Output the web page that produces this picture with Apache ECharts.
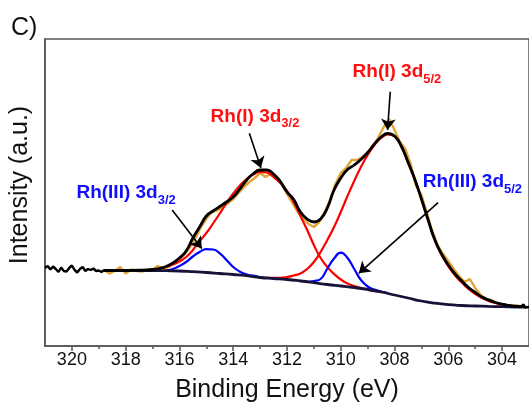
<!DOCTYPE html>
<html>
<head>
<meta charset="utf-8">
<script src="https://cdn.jsdelivr.net/npm/echarts@6/dist/echarts.min.js"></script>
<style>
  html, body { margin: 0; padding: 0; background: #fff; }
  #main { width: 529px; height: 409px; }
</style>
</head>
<body>
<div id="main"></div>
<script>
// tick positions (binding energy, eV)
var majorTicks = [304, 306, 308, 310, 312, 314, 316, 318, 320];
var minorTicks = [305, 307, 309, 311, 313, 315, 317, 319];

// raw spectrum, part outside the fit window (black)
var rawLeftE = [321.0, 320.9, 320.8, 320.7, 320.6, 320.5, 320.4, 320.3, 320.2, 320.1, 320.0, 319.9, 319.8, 319.7, 319.6, 319.5, 319.4, 319.3, 319.2, 319.1, 319.0, 318.9, 318.8];
var rawLeftI = [78, 80, 76.5, 79.5, 77, 74, 78.5, 75, 74.5, 78, 80.5, 76, 73.5, 77, 79, 75, 77, 76, 77.5, 75, 75.5, 74, 76];
var rawRightE = [303.4, 303.3, 303.2, 303.15, 303.1, 303.0];
var rawRightI = [40, 39.5, 41.5, 38.5, 39.5, 39];

// raw spectrum inside the fit window (gold)
var rawE = [318.8, 318.6, 318.4, 318.2, 318.0, 317.8, 317.6, 317.4, 317.2, 317.0, 316.8, 316.6, 316.4, 316.2, 316.0,
  315.8, 315.6, 315.4, 315.2, 315.0, 314.8, 314.6, 314.4, 314.2, 314.0, 313.8, 313.6, 313.4, 313.2, 313.0,
  312.8, 312.6, 312.4, 312.2, 312.0, 311.8, 311.6, 311.4, 311.2, 311.0, 310.8, 310.6, 310.4, 310.2, 310.0,
  309.8, 309.6, 309.4, 309.2, 309.0, 308.8, 308.6, 308.4, 308.2, 308.0, 307.8, 307.6, 307.4, 307.2, 307.0,
  306.8, 306.6, 306.4, 306.2, 306.0, 305.8, 305.6, 305.4, 305.2, 305.0, 304.8, 304.6, 304.4, 304.2, 304.0,
  303.8, 303.6, 303.4];
var rawI = [76, 72.5, 75, 79, 72.5, 76.5, 75, 74.5, 76, 76.5, 80, 77.5, 79, 82.5, 86,
  92, 99, 108, 119, 127, 134, 135.5, 139, 142.5, 147, 153, 159, 164, 168, 173,
  169, 172.5, 167, 163, 152, 143, 134, 128, 122, 119, 124, 134, 146, 162, 173,
  178, 186, 186, 189, 193, 199, 209, 219, 227, 216, 204, 197, 182, 160, 151,
  133, 115, 101, 92, 85, 77, 70, 64, 67, 58, 51, 47, 46, 43, 41.5,
  40.5, 40.5, 40];

// fit envelope
var envE = [318.8, 318.0, 317.5, 317.0, 316.75, 316.5, 316.25, 316.0, 315.75, 315.5, 315.25, 315.0, 314.75, 314.5, 314.25, 314.0,
  313.75, 313.5, 313.25, 313.0, 312.75, 312.5, 312.25, 312.0, 311.75, 311.5, 311.25, 311.0, 310.75, 310.5, 310.25, 310.0,
  309.75, 309.5, 309.25, 309.0, 308.75, 308.5, 308.25, 308.0, 307.75, 307.5, 307.25, 307.0, 306.75, 306.5, 306.25, 306.0,
  305.75, 305.5, 305.25, 305.0, 304.75, 304.5, 304.25, 304.0, 303.75, 303.5, 303.25];
var envI = [75.5, 75.6, 75.8, 76.5, 77.5, 79.5, 83, 88, 95, 108, 119, 130, 135, 139.5, 144, 149,
  157, 166, 172.5, 176, 176, 172, 164.5, 154, 146.5, 134, 127, 124, 127, 138, 156, 168,
  176.5, 181, 186.5, 193.5, 202, 209, 212.5, 210, 200, 184, 167, 147, 126, 106, 92, 81,
  72, 65, 58.5, 53.5, 49, 46, 43.5, 41.8, 40.6, 39.8, 39.3];

// Rh(I) 3d3/2 component
var rh1aE = [317.0, 316.75, 316.5, 316.25, 316.0, 315.75, 315.5, 315.25, 315.0, 314.75, 314.5, 314.25, 314.0, 313.75, 313.5, 313.25,
  313.0, 312.75, 312.5, 312.25, 312.0, 311.75, 311.5, 311.25, 311.0, 310.75, 310.5, 310.25, 310.0, 309.75, 309.5, 309.25, 309.0, 308.75, 308.5];
var rh1aI = [76, 77.5, 79, 81.5, 84.5, 89, 96, 105, 113, 122.5, 132.5, 143, 152.5, 160.5, 167, 171.5,
  174, 173.5, 169, 163, 155, 144, 130, 116, 101, 88, 79, 72, 66.5, 62.5, 60, 58, 56.5, 55, 54];

// Rh(I) 3d5/2 component
var rh1bE = [312.75, 312.5, 312.25, 312.0, 311.75, 311.5, 311.25, 311.0, 310.75, 310.5, 310.25, 310.0, 309.75, 309.5, 309.25, 309.0,
  308.75, 308.5, 308.25, 308.0, 307.75, 307.5, 307.25, 307.0, 306.75, 306.5, 306.25, 306.0, 305.75, 305.5, 305.25, 305.0,
  304.75, 304.5, 304.25, 304.0, 303.75, 303.5, 303.25];
var rh1bI = [68.5, 68.2, 68.2, 69, 70.5, 72.5, 77, 84, 94, 106, 119, 134, 150, 165, 179, 191,
  201, 208, 211.5, 209.5, 199.5, 183.5, 166.5, 146.5, 125.5, 105.5, 91, 79.5, 70.5, 63.5, 57, 52,
  48, 45, 43, 41.5, 40.4, 39.7, 39.2];

// Rh(III) 3d3/2 component
var rh3aE = [316.5, 316.25, 316.0, 315.75, 315.5, 315.25, 315.0, 314.75, 314.5, 314.25, 314.0, 313.75, 313.5, 313.25, 313.0];
var rh3aI = [75.5, 77, 80, 84, 89.5, 94, 96.8, 96.5, 92.7, 86, 79, 74.3, 71.5, 70.3, 68.8];

// Rh(III) 3d5/2 component
var rh3bE = [311.25, 311.0, 310.75, 310.5, 310.25, 310.0, 309.75, 309.5, 309.25, 309.0, 308.75, 308.5, 308.25];
var rh3bI = [64, 65, 67, 77.5, 87.5, 93.3, 88, 77, 66, 59.5, 56.5, 54.5, 53];

// Shirley background
var bgE = [318.8, 318.0, 317.0, 316.5, 316.0, 315.5, 315.0, 314.5, 314.0, 313.5, 313.0, 312.5, 312.0, 311.5, 311.0, 310.5,
  310.0, 309.5, 309.0, 308.5, 308.0, 307.5, 307.0, 306.5, 306.0, 305.5, 305.0, 304.5, 304.0, 303.5, 303.1];
var bgI = [75.5, 75.5, 75.5, 75.3, 75, 74.3, 73.5, 72.5, 71.5, 70.3, 68.5, 67.5, 66.5, 65, 63.3, 61.5,
  60, 58.5, 56.5, 54, 51, 48, 45, 42.8, 41.3, 40.5, 40, 39.6, 39.3, 39, 38.8];

function pairs(xs, ys) {
  return xs.map(function (x, i) { return [x, ys[i]]; });
}

var FONT = 'Liberation Sans, Arial, sans-serif';

// peak name with a subscript, anchored at the left-middle of the text
function peakLabel(name, sub, color, coord) {
  return {
    coord: coord,
    symbol: 'rect',
    symbolSize: 1,
    itemStyle: { color: 'rgba(0,0,0,0)' },
    label: {
      show: true,
      position: 'right',
      distance: 0,
      formatter: '{m|' + name + '}{s|' + sub + '}',
      rich: {
        m: { fontFamily: FONT, fontSize: 19, fontWeight: 'bold', color: color, lineHeight: 28, verticalAlign: 'top' },
        s: { fontFamily: FONT, fontSize: 13, fontWeight: 'bold', color: color, lineHeight: 13, verticalAlign: 'bottom', padding: [0, 0, 5, 0] }
      }
    }
  };
}

function arrow(from, to) {
  return [{ coord: from }, { coord: to }];
}

var myChart = echarts.init(document.getElementById('main'));
myChart.setOption({
  animation: false,
  title: {
    text: 'C)',
    left: 11,
    top: 16,
    padding: 0,
    textStyle: { fontFamily: FONT, fontSize: 25, fontWeight: 'normal', color: '#111' }
  },
  grid: {
    left: 44,
    right: -2,
    top: 39,
    bottom: 63,
    show: true,
    borderColor: '#555',
    borderWidth: 1.5
  },
  xAxis: [
    {
      type: 'value',
      inverse: true,
      min: 303,
      max: 321,
      name: 'Binding Energy (eV)',
      nameLocation: 'middle',
      nameGap: 32,
      nameTextStyle: { fontFamily: FONT, fontSize: 25, color: '#111' },
      axisLine: { onZero: false, lineStyle: { color: '#555', width: 1.5 } },
      axisTick: { customValues: majorTicks, length: 5, lineStyle: { color: '#555', width: 1.5 } },
      axisLabel: { customValues: majorTicks, margin: 5, fontFamily: FONT, fontSize: 18, color: '#111' },
      splitLine: { show: false }
    },
    {
      type: 'value',
      inverse: true,
      min: 303,
      max: 321,
      position: 'bottom',
      axisLine: { show: false },
      axisTick: { customValues: minorTicks, length: 3, lineStyle: { color: '#555', width: 1.5 } },
      axisLabel: { show: false },
      splitLine: { show: false }
    }
  ],
  yAxis: {
    type: 'value',
    min: 0,
    max: 307,
    name: 'Intensity (a.u.)',
    nameLocation: 'middle',
    nameGap: 12,
    nameTextStyle: { fontFamily: FONT, fontSize: 25, color: '#111', padding: [0, 0, 0, 15] },
    axisLine: { show: true, lineStyle: { color: '#555', width: 1.5 } },
    axisTick: { show: false },
    axisLabel: { show: false },
    splitLine: { show: false }
  },
  series: [
    {
      name: 'raw', type: 'line', showSymbol: false,
      lineStyle: { color: '#E0A535', width: 2.4 },
      data: pairs(rawE, rawI), z: 1
    },
    {
      name: 'Rh(I) 3d3/2', type: 'line', showSymbol: false, smooth: true,
      lineStyle: { color: '#FF0000', width: 2.2 },
      data: pairs(rh1aE, rh1aI), z: 2
    },
    {
      name: 'Rh(I) 3d5/2', type: 'line', showSymbol: false, smooth: true,
      lineStyle: { color: '#FF0000', width: 2.2 },
      data: pairs(rh1bE, rh1bI), z: 2
    },
    {
      name: 'Rh(III) 3d3/2', type: 'line', showSymbol: false, smooth: true,
      lineStyle: { color: '#0000FF', width: 2.2 },
      data: pairs(rh3aE, rh3aI), z: 3
    },
    {
      name: 'Rh(III) 3d5/2', type: 'line', showSymbol: false, smooth: true,
      lineStyle: { color: '#0000FF', width: 2.2 },
      data: pairs(rh3bE, rh3bI), z: 3
    },
    {
      name: 'background', type: 'line', showSymbol: false, smooth: true,
      lineStyle: { color: '#17123a', width: 2.8 },
      data: pairs(bgE, bgI), z: 4
    },
    {
      name: 'raw left', type: 'line', showSymbol: false,
      lineStyle: { color: '#000', width: 2.4 },
      data: pairs(rawLeftE, rawLeftI), z: 5
    },
    {
      name: 'raw right', type: 'line', showSymbol: false,
      lineStyle: { color: '#000', width: 2.4 },
      data: pairs(rawRightE, rawRightI), z: 5
    },
    {
      name: 'envelope', type: 'line', showSymbol: false, smooth: true,
      lineStyle: { color: '#000', width: 2.8 },
      data: pairs(envE, envI), z: 6,
      markLine: {
        silent: true,
        symbol: ['none', 'arrow'],
        symbolSize: 11,
        label: { show: false },
        lineStyle: { color: '#000', width: 1.6, type: 'solid' },
        data: [
          arrow([316.27, 136], [315.17, 97.5]),
          arrow([313.4, 212.7], [312.97, 178]),
          arrow([308.16, 254.3], [308.26, 216]),
          arrow([306.38, 143.3], [309.33, 72.7])
        ]
      },
      markPoint: {
        silent: true,
        data: [
          peakLabel('Rh(III) 3d', '3/2', '#1010FF', [319.85, 148.3]),
          peakLabel('Rh(I) 3d', '3/2', '#FF1010', [314.86, 225]),
          peakLabel('Rh(I) 3d', '5/2', '#FF1010', [309.58, 269.3]),
          peakLabel('Rh(III) 3d', '5/2', '#1010FF', [306.97, 159.3])
        ]
      }
    }
  ]
});
</script>
</body>
</html>
